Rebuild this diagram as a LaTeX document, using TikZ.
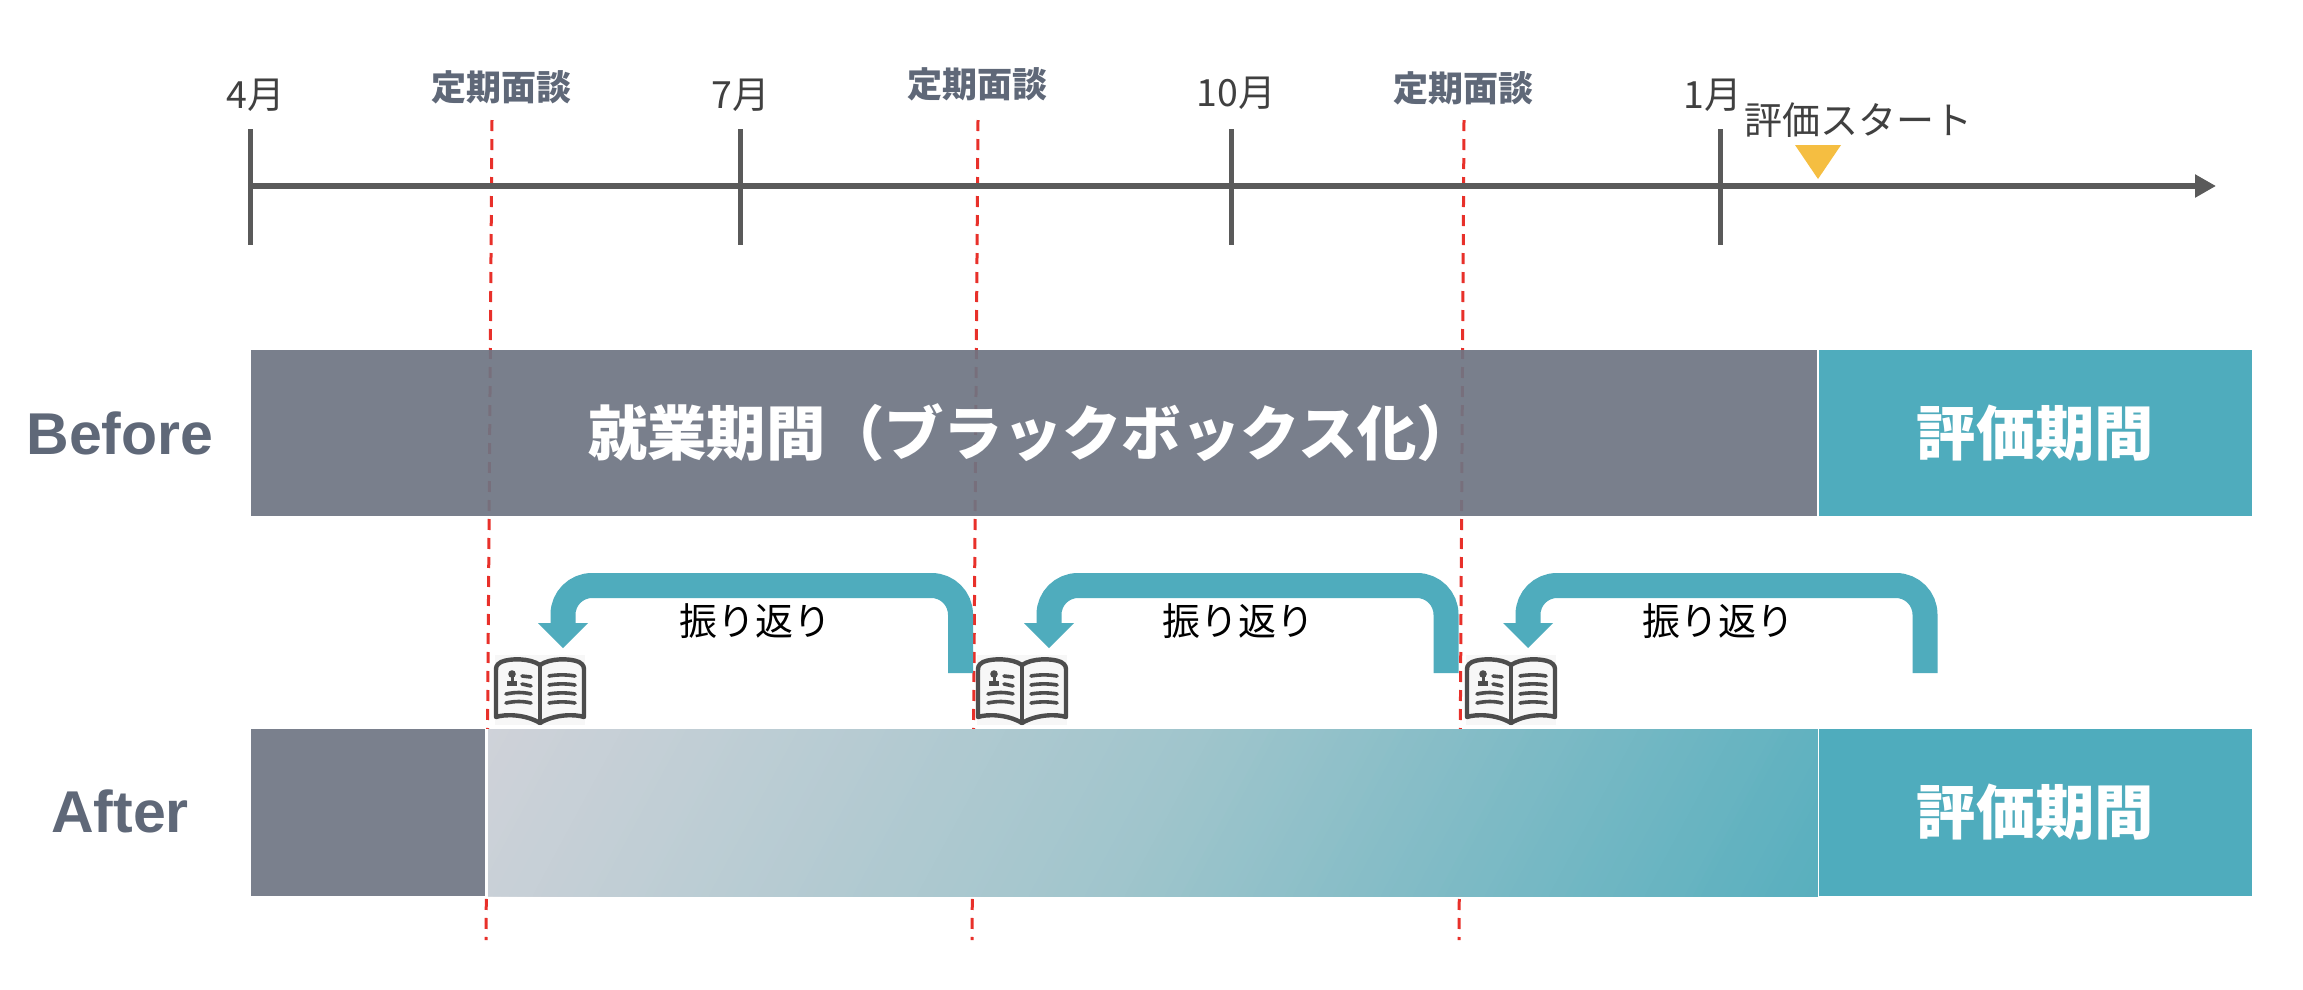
\documentclass[tikz,border=0pt]{standalone}
\usepackage{fontspec}
\setmainfont{Noto Sans CJK JP}
\newfontfamily\latinbold{Liberation Sans}
\usetikzlibrary{arrows.meta}
\definecolor{slatebar}{HTML}{7A808D}
\definecolor{slateunder}{HTML}{6E7583}
\definecolor{tealbar}{HTML}{4FACBD}
\definecolor{gradend}{HTML}{58AFBE}
\definecolor{labelgrey}{HTML}{5F6878}
\definecolor{axisgrey}{HTML}{5A5A5A}
\definecolor{textgrey}{HTML}{404040}
\definecolor{reddash}{HTML}{E8302A}
\definecolor{marker}{HTML}{F5BE41}
\definecolor{pale}{HTML}{CFD2D9}
\definecolor{midgrad}{HTML}{A0C5CC}
\definecolor{bookline}{HTML}{4D4D4D}
\definecolor{bookbg}{HTML}{F7F7F7}
\tikzset{
  x=1pt,y=-1pt,
  barbox/.style={minimum height=166pt,inner sep=0pt,outer sep=0pt,anchor=north west},
  tick/.style={draw=axisgrey,line width=5pt},
  axisline/.style={draw=axisgrey,line width=6.5pt,-{Triangle[length=21pt,width=22pt]}},
  redline/.style={draw=reddash,line width=3pt,dash pattern=on 11pt off 8pt},
  monthlabel/.style={font=\fontsize{37.5}{37.5}\selectfont,text=textgrey,inner sep=0pt},
  meetlabel/.style={font=\fontsize{35}{35}\selectfont\bfseries,text=labelgrey,inner sep=0pt},
  barlabel/.style={font=\fontsize{59.3}{59.3}\selectfont\bfseries,text=white,inner sep=0pt},
  sidelabel/.style={font=\fontsize{59}{59}\selectfont\latinbold\bfseries,text=labelgrey,inner sep=0pt},
  looklabel/.style={font=\fontsize{38}{38}\selectfont,text=black,inner sep=0pt},
  backarrow/.style={draw=tealbar,line width=25pt,rounded corners=29pt},
  bookstroke/.style={draw=bookline,line width=4.4pt,line cap=round,line join=round},
  bookthin/.style={draw=bookline,line width=3.6pt,line cap=round},
  pics/openbook/.style={code={
    \fill[bookbg] (0,0) rectangle (90,70);
    \draw[bookstroke] (45,10) .. controls (35,3) and (15,3) .. (6,7) .. controls (1,10) and (1,12) .. (1,16)
       -- (1,62) .. controls (10,59) and (30,59) .. (45,68)
       .. controls (60,59) and (80,59) .. (89,62) -- (89,16) .. controls (89,12) and (89,10) .. (84,7)
       .. controls (75,3) and (55,3) .. (45,10) -- cycle;
    \draw[bookstroke] (45,10) -- (45,68);
    \fill[bookline] (17,19) circle (3.8);
    \fill[bookline] (12,31) rectangle (22,26) ;
    \fill[bookline] (15.5,26) rectangle (18.5,21);
    \draw[bookthin] (27,21) -- (36,22);
    \draw[bookthin] (27,29) -- (36,31);
    \draw[bookthin] (11,39) .. controls (20,37) and (28,37) .. (36,39);
    \draw[bookthin] (11,48) .. controls (20,46) and (28,46) .. (36,48);
    \foreach \yy in {21,30,39,48} \draw[bookthin] (54,\yy) .. controls (62,\yy-1.5) and (72,\yy-1.5) .. (80,\yy);
  }}
}
\begin{document}
\begin{tikzpicture}
\useasboundingbox (0,0) rectangle (2303,989);
\fill[white] (0,0) rectangle (2303,989);
% red lines (behind bars)
\coordinate (r1t) at (492,120); \coordinate (r1b) at (486,940);
\coordinate (r2t) at (978,120); \coordinate (r2b) at (972,940);
\coordinate (r3t) at (1464,120); \coordinate (r3b) at (1459,940);
\draw[redline] (r1t) -- (r1b);
\draw[redline] (r2t) -- (r2b);
\draw[redline] (r3t) -- (r3b);
% timeline
\coordinate (t0) at (250,186);
\coordinate (tend) at (2216,186);
\draw[axisline] (t0) -- (tend);
\foreach \n/\xx in {a/250,b/740,c/1231,d/1720}{
  \coordinate (\n t) at (\xx,129); \coordinate (\n b) at (\xx,245);
  \draw[tick] (\n t) -- (\n b);
}
\node[monthlabel] (m4) at (255.5,95) {4月};
\node[monthlabel] (m7) at (741,95) {7月};
\node[monthlabel] (m10) at (1236,93) {10月};
\node[monthlabel] (m1) at (1713,95) {1月};
\node[meetlabel] (ma) at (501,87) {定期面談};
\node[meetlabel] (mb) at (977,84) {定期面談};
\node[meetlabel] (mc) at (1463,88) {定期面談};
\node[monthlabel,font=\fontsize{38}{38}\selectfont] (start) at (1858,120) {評価スタート};
\fill[marker] (1795,145) -- (1841,145) -- (1818,179) -- cycle;
% before
\node[barbox,fill=slateunder,fill opacity=0.92,minimum width=1566pt] (bw) at (251,350) {};
\node[barbox,fill=tealbar,minimum width=433pt] (be) at (1819,350) {};
% after: white ground keeps the red lines off the bar and the gaps white
\fill[white] (484,729) rectangle (1819,896);
\node[barbox,fill=slatebar,minimum width=234pt,minimum height=167pt] (aw) at (251,729) {};
\node[barbox,fill=pale,minimum width=1329pt,minimum height=167pt] (ag) at (488,729) {};
\begin{scope}
  \clip (ag.north west) rectangle (ag.south east);
  \foreach \i in {1,...,89}{
    \pgfmathtruncatemacro{\pa}{100-\i*100/89}
    \colorlet{stripc}{pale!\pa!midgrad}
    \pgfmathsetmacro{\st}{487+8*\i}
    \fill[stripc] (\st,729) -- (1830,729) -- (1830,896) -- (\st-90,896) -- cycle;
  }
  \foreach \i in {1,...,89}{
    \pgfmathtruncatemacro{\pa}{100-\i*100/89}
    \colorlet{stripc}{midgrad!\pa!gradend}
    \pgfmathsetmacro{\st}{1199+8*\i}
    \fill[stripc] (\st,729) -- (1830,729) -- (1830,896) -- (\st-90,896) -- cycle;
  }
\end{scope}
\node[barbox,fill=tealbar,minimum width=433pt,minimum height=167pt] (ae) at (1819,729) {};
\node[barlabel] (bwl) at (1032,433) {就業期間（ブラックボックス化）};
\node[barlabel] at (be.center) {評価期間};
\node[barlabel] at (ae.center) {評価期間};
\node[sidelabel] (before) at (120,433) {Before};
\node[sidelabel] (after) at (120,811) {After};
% books
\foreach \xx in {495,977,1466}{ \pic at (\xx,655) {openbook}; }
% review arrows
\foreach \n/\rx/\lx/\tx in {p/960.5/563/755,q/1446/1049/1238,s/1925/1528/1718}{
  \coordinate (\n s) at (\rx,673);
  \coordinate (\n e) at (\lx,630);
  \draw[backarrow] (\n s) -- (\rx,585.5) -- (\lx,585.5) -- (\n e);
  \fill[tealbar] (\lx-25,623) -- (\lx+25,623) -- (\lx,648) -- cycle;
  \node[looklabel] (\n l) at (\tx,621) {振り返り};
}
\end{tikzpicture}
\end{document}
